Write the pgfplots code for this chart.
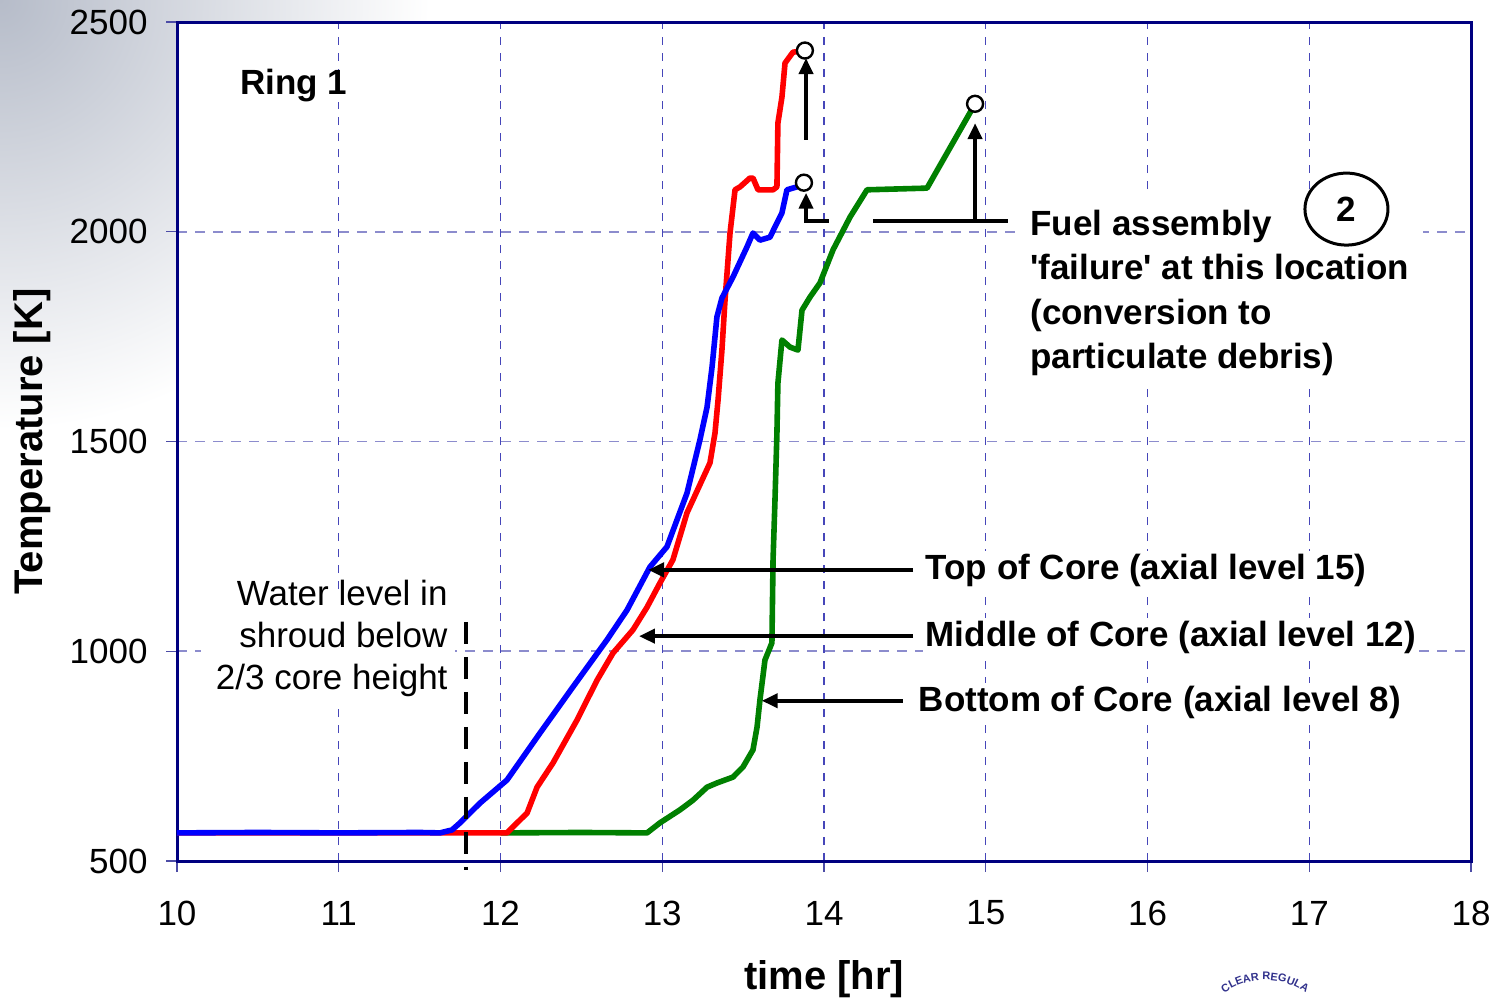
\documentclass[border=0pt]{standalone}
\usepackage{fontspec}
\setmainfont{Liberation Sans}
\usepackage{pgfplots}
\pgfplotsset{compat=1.18}
\usetikzlibrary{arrows.meta,decorations.text}

\definecolor{navy}{RGB}{0,0,128}
\definecolor{gridv}{RGB}{70,70,185}
\definecolor{gridh}{RGB}{140,140,205}
\definecolor{cgreen}{RGB}{0,128,0}
\definecolor{slidegray}{RGB}{182,188,201}
\definecolor{logoblue}{RGB}{50,50,140}

\newcommand{\annfont}{\bfseries\fontsize{17.5}{21}\selectfont}
\newcommand{\txtfont}{\fontsize{17.5}{21}\selectfont}

\begin{document}
\begin{tikzpicture}
\path[use as bounding box] (0,0) rectangle (752.5pt,499pt);
% slide background shading in the upper left corner
\begin{scope}
  \clip (0,0) rectangle (752.5pt,499pt);
  \shade[inner color=slidegray, outer color=white] (0,499pt) circle (215pt);
  % edge of the seal at the bottom of the slide
  \path[decorate, decoration={text along path, text align=center,
        text={|\bfseries\fontsize{5.5}{6}\selectfont\color{logoblue}|CLEAR REGULA}}]
        (632.5pt,-26pt) ++(128:35pt) arc (128:52:35pt);
\end{scope}

\begin{axis}[
  at={(88.5pt,68.5pt)}, anchor=south west,
  scale only axis, width=647pt, height=419.5pt,
  xmin=10, xmax=18, ymin=500, ymax=2500,
  xtick={10,11,...,18}, ytick={500,1000,...,2500},
  minor xtick={11,12,...,17}, minor ytick={1000,1500,2000},
  tick pos=left,
  axis background/.style={fill=white},
  axis line style={navy, line width=1.5pt},
  tick style={navy!70, line width=0.6pt},
  tick align=outside, major tick length=5.5pt, minor tick length=0pt,
  grid=minor,
  minor x grid style={gridv, line width=0.6pt, dash pattern=on 4pt off 4pt},
  minor y grid style={gridh, line width=0.9pt, dash pattern=on 5pt off 4pt},
  /pgf/number format/assume math mode=true,
  /pgf/number format/set thousands separator={},
  tick label style={font=\txtfont, inner sep=0pt},
  xticklabel style={anchor=center, yshift=-20.5pt},
  yticklabel style={anchor=east, xshift=-9pt},
  xlabel={time [hr]}, ylabel={Temperature [K]},
  xlabel style={at={(axis description cs:0.5,-0.141)}, anchor=center,
                font=\bfseries\fontsize{20}{24}\selectfont},
  ylabel style={at={(axis description cs:-0.112,0.5)}, anchor=center,
                font=\bfseries\fontsize{20}{24}\selectfont},
  clip=false,
]

% Bottom of core (axial level 8)
\addplot[cgreen, line width=2.8pt, line join=round] coordinates {
 (12.0,567) (12.5,568) (12.906,567) (12.986,591) (13.110,622) (13.190,645)
 (13.277,676) (13.338,686) (13.437,700) (13.499,724) (13.561,765) (13.586,819)
 (13.604,884) (13.635,979) (13.678,1020) (13.685,1217) (13.697,1361) (13.709,1520)
 (13.715,1639) (13.740,1742) (13.790,1725) (13.839,1718) (13.864,1813) (13.913,1844)
 (13.975,1878) (14.056,1957) (14.161,2035) (14.266,2100) (14.637,2104) (14.934,2305)
};
% Middle of core (axial level 12)
\addplot[red, line width=2.8pt, line join=round] coordinates {
 (10,567) (11,567) (12.04,567) (12.121,598) (12.164,614) (12.226,676) (12.325,734)
 (12.473,836) (12.597,931) (12.696,996) (12.819,1051) (12.906,1105) (12.986,1163)
 (13.066,1218) (13.153,1330) (13.295,1449) (13.326,1520) (13.345,1599) (13.369,1718)
 (13.388,1837) (13.419,1997) (13.450,2100) (13.481,2107) (13.542,2128) (13.561,2128)
 (13.592,2100) (13.685,2100) (13.709,2107) (13.715,2259) (13.740,2321) (13.759,2402)
 (13.808,2428) (13.882,2432)
};
% Top of core (axial level 15)
\addplot[blue, line width=2.8pt, line join=round] coordinates {
 (10,567) (10.5,568) (11,567) (11.5,568) (11.626,567) (11.70,574) (11.75,591)
 (11.873,638) (12.04,693) (12.244,805) (12.448,915) (12.658,1027) (12.782,1098)
 (12.924,1201) (13.029,1249) (13.153,1377) (13.233,1504) (13.277,1582) (13.308,1678)
 (13.338,1797) (13.369,1842) (13.437,1892) (13.524,1964) (13.561,1997) (13.604,1980)
 (13.666,1987) (13.709,2021) (13.740,2045) (13.771,2100) (13.833,2107) (13.876,2117)
};

% failure arrows
\draw[line width=2pt, -{Triangle[length=8pt,width=7pt]}] (axis cs:13.889,2219) -- (axis cs:13.889,2414);
\draw[line width=2pt, -{Triangle[length=8pt,width=7pt]}] (axis cs:14.03,2026) -- (axis cs:13.889,2026) -- (axis cs:13.889,2093);
\draw[line width=2pt] (axis cs:14.303,2026) -- (axis cs:15.138,2026);
\draw[line width=2pt, -{Triangle[length=8pt,width=7pt]}] (axis cs:14.934,2026) -- (axis cs:14.934,2259);

% failure points
\addplot[only marks, mark=*, mark size=4pt,
  mark options={fill=white, draw=black, line width=1.2pt}]
  coordinates {(13.882,2432) (13.876,2117) (14.934,2305)};

% curve labels
\draw[line width=2pt, -{Triangle[length=8pt,width=7pt]}] (axis cs:14.551,1194) -- (axis cs:12.912,1194);
\draw[line width=2pt, -{Triangle[length=8pt,width=7pt]}] (axis cs:14.551,1036) -- (axis cs:12.856,1036);
\draw[line width=2pt, -{Triangle[length=8pt,width=7pt]}] (axis cs:14.488,882) -- (axis cs:13.615,882);
\node[anchor=base west, font=\annfont, fill=white, inner sep=1.5pt] at (axis cs:14.608,1171) {Top of Core (axial level 15)};
\node[anchor=base west, font=\annfont, fill=white, inner sep=1.5pt] at (axis cs:14.608,1012) {Middle of Core (axial level 12)};
\node[anchor=base west, font=\annfont, fill=white, inner sep=1.5pt] at (axis cs:14.565,857) {Bottom of Core (axial level 8)};

% failure note
\fill[white] (axis cs:15.181,2088) rectangle (axis cs:17.703,1640);
\node[anchor=base west, font=\annfont, inner sep=0pt] at (axis cs:15.274,1992) {Fuel assembly};
\node[anchor=base west, font=\annfont, inner sep=0pt] at (axis cs:15.274,1885) {\textquotesingle failure\textquotesingle{} at this location};
\node[anchor=base west, font=\annfont, inner sep=0pt] at (axis cs:15.274,1778) {(conversion to};
\node[anchor=base west, font=\annfont, inner sep=0pt] at (axis cs:15.274,1673) {particulate debris)};
\draw[line width=1.5pt, fill=white] (axis cs:17.23,2054) ellipse [x radius=20.75pt, y radius=18pt];
\node[font=\annfont, inner sep=0pt] at (axis cs:17.23,2054) {2};

% ring title
\node[anchor=base west, font=\annfont, fill=white, inner sep=0pt] at (axis cs:10.389,2326) {Ring 1};

% water level marker
\fill[white] (axis cs:10.15,1140) rectangle (axis cs:11.72,880);
\node[anchor=base east, font=\txtfont, inner sep=0pt] at (axis cs:11.675,1110) {Water level in};
\node[anchor=base east, font=\txtfont, inner sep=0pt] at (axis cs:11.675,1009) {shroud below};
\node[anchor=base east, font=\txtfont, inner sep=0pt] at (axis cs:11.675,908) {2/3 core height};
\draw[black, line width=2pt, dash pattern=on 11pt off 6.5pt] (axis cs:11.787,1070) -- (axis cs:11.787,478);

\end{axis}
\end{tikzpicture}
\end{document}
